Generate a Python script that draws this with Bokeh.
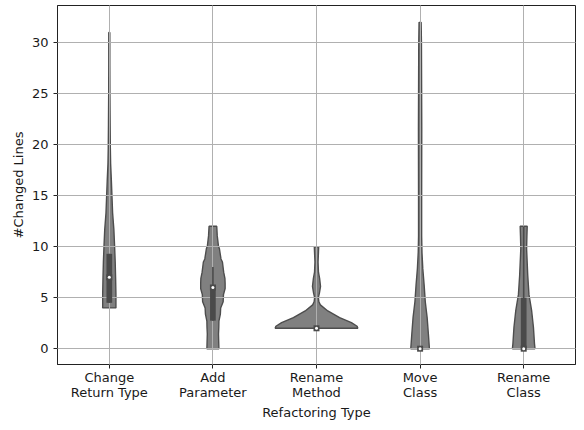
from bokeh.plotting import figure
from bokeh.models import ColumnDataSource, FixedTicker, Range1d
from bokeh.embed import file_html
from bokeh.resources import INLINE

# ---- data ----
categories = ["Change\nReturn Type", "Add\nParameter", "Rename\nMethod", "Move\nClass", "Rename\nClass"]
y_ticks = [0, 5, 10, 15, 20, 25, 30]

# violin outlines: y levels and half-widths (in category units)
crt_y = [4.0, 5.3, 6.9, 8.5, 10.1, 11.7, 13.3, 14.9, 16.5, 18.1, 19.7, 22.0, 25.0, 28.0, 31.0]
crt_w = [0.064, 0.064, 0.061, 0.057, 0.051, 0.044, 0.032, 0.026, 0.020, 0.013, 0.010, 0.008, 0.006, 0.005, 0.005]

ap_y = [0.0, 1.44, 2.1, 2.7, 3.4, 4.0, 4.6, 5.3, 5.9, 6.4, 6.9, 7.5, 8.5, 8.8, 9.8, 10.1, 11.06, 12.0]
ap_w = [0.058, 0.054, 0.057, 0.058, 0.072, 0.075, 0.099, 0.102, 0.118, 0.118, 0.116, 0.104, 0.092, 0.078, 0.063, 0.053, 0.042, 0.037]

rm_y = [2.0, 2.2, 2.55, 3.05, 3.7, 4.3, 4.6, 5.0, 5.45, 6.1, 6.9, 7.5, 8.5, 9.45, 10.0]
rm_w = [0.399, 0.392, 0.337, 0.223, 0.109, 0.037, 0.023, 0.018, 0.028, 0.039, 0.030, 0.019, 0.015, 0.019, 0.021]

mc_y = [0.0, 1.44, 3.05, 4.6, 6.25, 7.85, 9.45, 11.06, 15.0, 21.6, 30.0, 32.0]
mc_w = [0.090, 0.080, 0.068, 0.050, 0.039, 0.026, 0.018, 0.015, 0.015, 0.016, 0.013, 0.010]

rc_y = [0.0, 0.5, 2.1, 3.7, 5.3, 7.2, 9.8, 11.06, 12.0]
rc_w = [0.109, 0.104, 0.094, 0.077, 0.051, 0.039, 0.028, 0.031, 0.034]

q1 = [4.5, 2.75, 2.0, 0.0, 0.0]
median = [7.0, 6.0, 2.0, 0.0, 0.0]
q3 = [9.3, 6.25, 2.0, 0.0, 5.0]
whisk_lo = [4.5, 2.75, 2.0, 0.0, 0.0]
whisk_hi = [9.3, 8.0, 2.0, 0.0, 12.0]

profiles = [(crt_y, crt_w), (ap_y, ap_w), (rm_y, rm_w), (mc_y, mc_w), (rc_y, rc_w)]

# ---- figure ----
FONT = "DejaVu Sans"
TXT = "#1a1a1a"

p = figure(width=576, height=422, output_backend="svg", toolbar_location=None,
           x_range=Range1d(-0.5, 4.5), y_range=Range1d(-1.55, 33.65),
           min_border_left=57, min_border_right=1, min_border_top=5, min_border_bottom=50)

xs, ys = [], []
for i, (yy, ww) in enumerate(profiles):
    left_x = [i - w for w in ww]
    right_x = [i + w for w in reversed(ww)]
    xs.append(left_x + right_x)
    ys.append(list(yy) + list(reversed(yy)))

p.patches(xs="xs", ys="ys", source=ColumnDataSource(dict(xs=xs, ys=ys)),
          fill_color="#808080", line_color="#4d4d4d", line_width=1.4)

pos = list(range(len(categories)))
stats = ColumnDataSource(dict(x=pos, q1=q1, q3=q3, med=median, lo=whisk_lo, hi=whisk_hi))
p.segment(x0="x", y0="lo", x1="x", y1="hi", source=stats, line_color="#4a4a4a",
          line_width=1.6, level="annotation")
p.vbar(x="x", bottom="q1", top="q3", width=0.055, source=stats, fill_color="#4a4a4a",
       line_color=None, level="annotation")
p.scatter(x="x", y="med", source=stats, marker="square", size=6, fill_color="#4a4a4a",
          line_color=None, level="annotation")
p.scatter(x="x", y="med", source=stats, marker="circle", size=3, fill_color="white",
          line_color=None, level="annotation")

# grid above the violin bodies, below the boxes
for g in (p.xgrid, p.ygrid):
    g.level = "guide"
    g.grid_line_color = "#b0b0b0"
    g.grid_line_width = 1

p.xaxis.ticker = FixedTicker(ticks=pos)
p.xaxis.major_label_overrides = {i: c for i, c in enumerate(categories)}
p.yaxis.ticker = FixedTicker(ticks=y_ticks)
p.xgrid.ticker = FixedTicker(ticks=pos)
p.ygrid.ticker = FixedTicker(ticks=y_ticks)

p.xaxis.axis_label = "Refactoring Type"
p.yaxis.axis_label = "#Changed Lines"

for ax in (p.xaxis, p.yaxis):
    ax.axis_label_text_font = FONT
    ax.axis_label_text_font_size = "13px"
    ax.axis_label_text_font_style = "normal"
    ax.axis_label_text_color = TXT
    ax.major_label_text_font = FONT
    ax.major_label_text_font_size = "13px"
    ax.major_label_text_color = TXT
    ax.major_label_text_line_height = 1.0
    ax.minor_tick_line_color = None
    ax.major_tick_out = 4
    ax.major_tick_in = 0
    ax.major_tick_line_color = "#222222"
    ax.axis_line_color = "#222222"

p.xaxis.major_label_standoff = 1
p.yaxis.major_label_standoff = 5
p.xaxis.axis_label_standoff = 2
p.yaxis.axis_label_standoff = 3

p.outline_line_color = "#222222"
p.outline_line_width = 1
p.background_fill_color = "white"
p.border_fill_color = "white"

open("out.html", "w").write(file_html(p, INLINE))
